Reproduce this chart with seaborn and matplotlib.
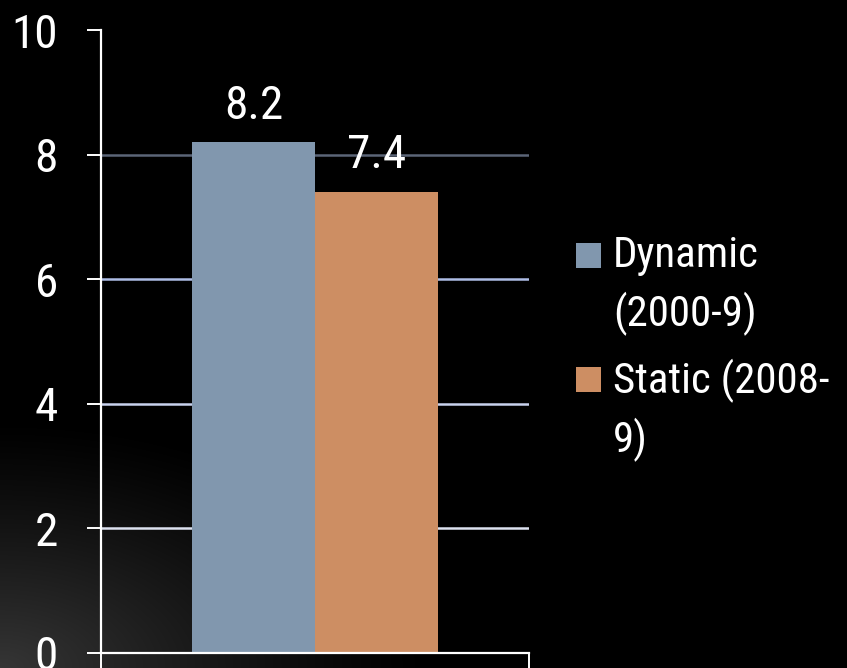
import numpy as np
import pandas as pd
import matplotlib
matplotlib.use("Agg")
import matplotlib.pyplot as plt
from matplotlib import font_manager
from matplotlib.patches import Rectangle
import seaborn as sns

# Data
categories = ["Dynamic\n(2000-9)", "Static (2008-\n9)"]
values = [8.2, 7.4]
bar_colors = ["#8197ae", "#cd8e63"]
y_ticks = [0, 2, 4, 6, 8, 10]
grid_levels = [2, 4, 6, 8]
grid_colors = ["#dde2f0", "#c9d2ee", "#aebde6", "#5b6577"]

sns.set_theme(style="white")

# Prefer a regular-weight narrow sans face for all text
narrow_keys = ("condensed", "semi-condensed", "extra-condensed", "ultra-condensed")
candidates = []
for f in font_manager.fontManager.ttflist:
    st = str(f.stretch).lower()
    w = f.weight if isinstance(f.weight, int) else 400
    if f.style != "normal" or w != 400:
        continue
    if "Mono" in f.name or "Serif" in f.name:
        continue
    if "Narrow" in f.name or "Condensed" in f.name or st in narrow_keys:
        candidates.append(f)
order = ["Liberation Sans Narrow", "Arial Narrow", "Roboto Condensed",
         "Open Sans Condensed", "Noto Sans", "DejaVu Sans"]
family, stretch = "Liberation Sans", "normal"
chosen = None
for name in order:
    hit = [f for f in candidates if f.name == name]
    if hit:
        chosen = hit[0]
        break
if chosen is None and candidates:
    chosen = candidates[0]
if chosen is not None:
    family = chosen.name
    stretch = chosen.stretch if str(chosen.stretch).lower() in narrow_keys else "normal"
plt.rcParams["font.family"] = [family, "DejaVu Sans"]
plt.rcParams["font.stretch"] = stretch
plt.rcParams["font.weight"] = "normal"

W, H = 847, 668
fig = plt.figure(figsize=(W / 100, H / 100), dpi=100)
fig.patch.set_facecolor("black")

# Soft grey glow in the lower-left corner of the backdrop
bg = fig.add_axes([0, 0, 1, 1], zorder=-10)
xx, yy = np.meshgrid(np.arange(W), np.arange(H))
r = np.sqrt((xx / 430.0) ** 2 + ((H - yy) / 250.0) ** 2)
glow = np.clip(1 - r, 0, 1) ** 1.2 * 0.21
bg.imshow(np.dstack([glow, glow, glow]), extent=[0, W, H, 0], aspect="auto")
bg.set_axis_off()

ax = fig.add_axes([101 / W, (H - 653) / H, 428 / W, 623 / H])
ax.set_facecolor("none")

df = pd.DataFrame({"group": [""] * len(values), "series": categories, "value": values})
sns.barplot(data=df, x="group", y="value", hue="series", palette=bar_colors,
            width=0.573, gap=0, saturation=1, legend=False, ax=ax, zorder=3,
            linewidth=0, edgecolor="none")

for lvl, col in zip(grid_levels, grid_colors):
    ax.axhline(lvl, color=col, lw=1.8, zorder=1)

ax.set_xlim(-0.5, 0.5)
ax.set_ylim(0, 10)
ax.set_yticks(y_ticks)
ax.set_yticklabels([str(t) for t in y_ticks])
ax.set_xticks([-0.5, 0.5])
ax.set_xticklabels(["", ""])
ax.set_xlabel("")
ax.set_ylabel("")

for side in ["top", "right"]:
    ax.spines[side].set_visible(False)
for side in ["left", "bottom"]:
    ax.spines[side].set_color("white")
    ax.spines[side].set_linewidth(1.6)
    ax.spines[side].set_zorder(4)

ax.tick_params(axis="y", colors="white", length=10, width=1.4, pad=21,
               labelsize=34, left=True, direction="out")
ax.tick_params(axis="x", colors="white", length=11, width=1.4, bottom=True,
               direction="out")

# Value labels above each bar
for patch, v in zip(ax.patches, values):
    cx = patch.get_x() + patch.get_width() / 2
    ax.annotate(f"{v:.1f}", (cx, v), xytext=(0, 17), textcoords="offset points",
                ha="center", va="baseline", color="white", fontsize=34,
                annotation_clip=False)

# Legend: square swatch beside the first line of each wrapped label
swatch_tops = [243, 367]
line_baselines = [[267, 326], [393, 452]]
for top, baselines, label, col in zip(swatch_tops, line_baselines, categories, bar_colors):
    fig.patches.append(Rectangle((576 / W, 1 - (top + 25) / H), 25 / W, 25 / H,
                                 transform=fig.transFigure, facecolor=col,
                                 edgecolor="none"))
    for base, line in zip(baselines, label.split("\n")):
        fig.text(613 / W, 1 - base / H, line, color="white", fontsize=31,
                 ha="left", va="baseline")

fig.savefig("out.png", dpi=100, facecolor=fig.get_facecolor())
